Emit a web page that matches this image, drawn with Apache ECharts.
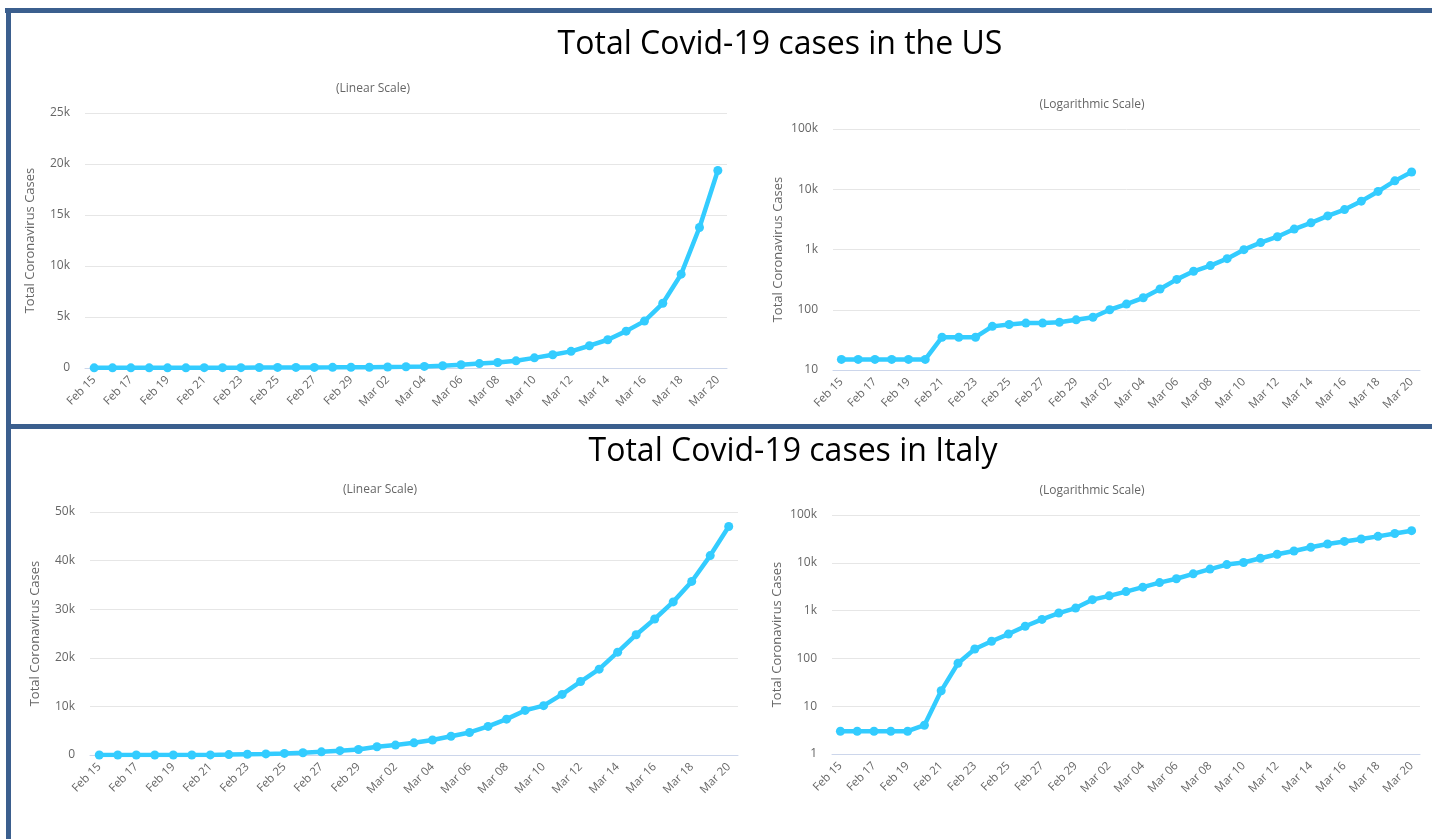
<!DOCTYPE html>
<html>
<head>
<meta charset="utf-8">
<script src="https://cdn.jsdelivr.net/npm/echarts@6/dist/echarts.min.js"></script>
<style>
html,body{margin:0;padding:0;background:#fff;}
#chart{width:1432px;height:839px;}
</style>
</head>
<body>
<div id="chart"></div>
<script>
var dates = ['Feb 15','Feb 16','Feb 17','Feb 18','Feb 19','Feb 20','Feb 21','Feb 22','Feb 23','Feb 24','Feb 25','Feb 26','Feb 27','Feb 28','Feb 29',
  'Mar 01','Mar 02','Mar 03','Mar 04','Mar 05','Mar 06','Mar 07','Mar 08','Mar 09','Mar 10','Mar 11','Mar 12','Mar 13','Mar 14','Mar 15','Mar 16','Mar 17','Mar 18','Mar 19','Mar 20'];
var usCases = [15,15,15,15,15,15,35,35,35,53,57,60,60,62,68,75,100,124,158,221,319,435,541,704,994,1301,1630,2183,2770,3613,4596,6344,9197,13779,19367];
var italyCases = [3,3,3,3,3,4,21,79,157,229,323,470,655,889,1128,1694,2036,2502,3089,3858,4636,5883,7375,9172,10149,12462,15113,17660,21157,24747,27980,31506,35713,41035,47021];
var mainTitles = ['Total Covid-19 cases in the US','Total Covid-19 cases in Italy'];
var subTitles = ['(Linear Scale)','(Logarithmic Scale)'];
var yName = 'Total Coronavirus Cases';

var FONT = '"Open Sans", "Noto Sans", sans-serif';
var LINE = '#33ccff';

function kfmt(v){
  if (v >= 1000) return (v/1000) + 'k';
  return String(v);
}

var grids = [
  {left:85, top:113, width:642, height:255},
  {left:833, top:129, width:587, height:241},
  {left:90, top:512, width:648, height:243},
  {left:832, top:515, width:588, height:239}
];

function xAxis(i){
  return {
    type:'category', gridIndex:i, data:dates, boundaryGap:true,
    axisLine:{show:true, lineStyle:{color:'#ccd6eb', width:1}},
    axisTick:{show:false},
    axisLabel:{interval:1, rotate:45, margin:10, color:'#666', fontSize:11.5, fontFamily:FONT},
    splitLine:{show:false}
  };
}
function yAxisBase(i){
  return {
    gridIndex:i, name:yName, nameLocation:'middle', nameGap:48,
    nameTextStyle:{color:'#666', fontSize:13, fontFamily:FONT},
    axisLine:{show:false}, axisTick:{show:false},
    axisLabel:{color:'#666', fontSize:12, fontFamily:FONT, margin:15, formatter:kfmt},
    splitLine:{show:true, lineStyle:{color:'#e6e6e6', width:1}}
  };
}
var y0 = yAxisBase(0); y0.type='value'; y0.min=0; y0.max=25000; y0.interval=5000;
var y1 = yAxisBase(1); y1.type='log'; y1.logBase=10; y1.min=10; y1.max=100000;
var y2 = yAxisBase(2); y2.type='value'; y2.min=0; y2.max=50000; y2.interval=10000;
var y3 = yAxisBase(3); y3.type='log'; y3.logBase=10; y3.min=1; y3.max=100000;

function series(i, data){
  return {
    type:'line', xAxisIndex:i, yAxisIndex:i, data:data,
    symbol:'circle', symbolSize:9, showSymbol:true,
    lineStyle:{color:LINE, width:4.5}, itemStyle:{color:LINE},
    smooth:false, animation:false
  };
}

var borderColor = '#3b5f8e';

var option = {
  backgroundColor:'#fff',
  animation:false,
  title:[
    {text:mainTitles[0], left:780, top:29, textAlign:'center', padding:0, textStyle:{fontSize:32, fontWeight:'normal', color:'#000', fontFamily:FONT}},
    {text:mainTitles[1], left:793, top:436, textAlign:'center', padding:0, textStyle:{fontSize:32, fontWeight:'normal', color:'#000', fontFamily:FONT}},
    {text:subTitles[0], left:373, top:83, textAlign:'center', padding:0, textStyle:{fontSize:12, fontWeight:'normal', color:'#666', fontFamily:FONT}},
    {text:subTitles[1], left:1092, top:99, textAlign:'center', padding:0, textStyle:{fontSize:12, fontWeight:'normal', color:'#666', fontFamily:FONT}},
    {text:subTitles[0], left:380, top:484, textAlign:'center', padding:0, textStyle:{fontSize:12, fontWeight:'normal', color:'#666', fontFamily:FONT}},
    {text:subTitles[1], left:1092, top:485, textAlign:'center', padding:0, textStyle:{fontSize:12, fontWeight:'normal', color:'#666', fontFamily:FONT}}
  ],
  grid:grids,
  xAxis:[xAxis(0), xAxis(1), xAxis(2), xAxis(3)],
  yAxis:[y0, y1, y2, y3],
  series:[series(0, usCases), series(1, usCases), series(2, italyCases), series(3, italyCases)],
  graphic:[
    {type:'rect', shape:{x:5, y:8, width:1427, height:5}, style:{fill:borderColor}, silent:true},
    {type:'rect', shape:{x:6, y:8, width:5, height:831}, style:{fill:borderColor}, silent:true},
    {type:'rect', shape:{x:6, y:424, width:1426, height:5}, style:{fill:borderColor}, silent:true}
  ]
};

var chart = echarts.init(document.getElementById('chart'), null, {renderer:'canvas'});
chart.setOption(option);
</script>
</body>
</html>
